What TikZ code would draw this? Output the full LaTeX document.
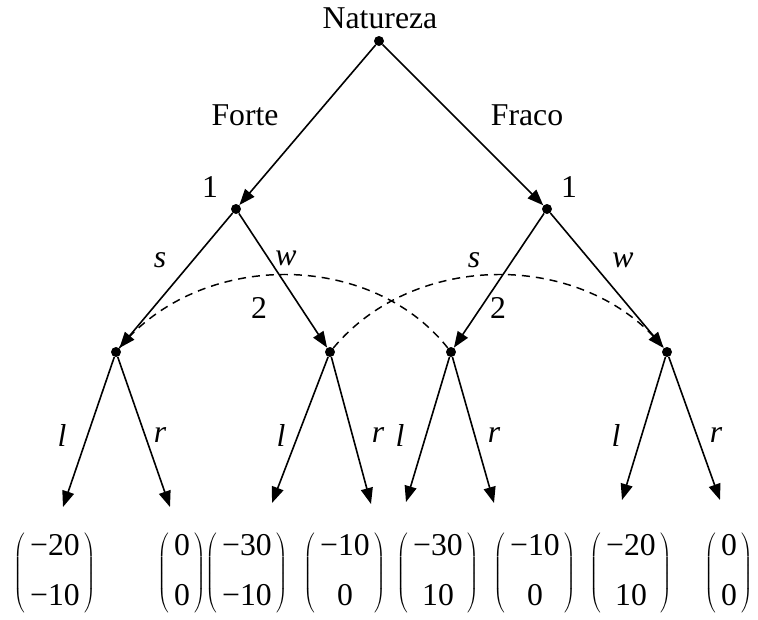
\documentclass[tikz,border=0pt]{standalone}
\usepackage{fontspec}
\setmainfont{Liberation Serif}
\usetikzlibrary{arrows.meta}

\tikzset{
  dec/.style={circle,fill,inner sep=0pt,minimum size=7.5pt},
  ramo/.style={-{Triangle[length=12pt,width=9pt]},line width=1.2pt},
  info/.style={line width=1.1pt,dash pattern=on 6pt off 4.5pt},
  pag/.style={inner sep=0pt}
}
\newcommand{\vpag}[2]{$\left(\rule[-26pt]{0pt}{64pt}\begin{tabular}{@{\hspace{3.5pt}}c@{\hspace{3.5pt}}}#1\\[9pt]#2\end{tabular}\right)$}

\begin{document}
\begin{tikzpicture}[x=0.75pt,y=-0.75pt,font=\fontsize{23.8}{28}\selectfont]
		\useasboundingbox (0,0) rectangle (758,619);
		
		% Nós de decisão
		\node[dec] (n0) at (379,41) {};
		\node[dec] (a) at (236,209) {};
		\node[dec] (b) at (547,209) {};
		\node[dec] (a1) at (116,352) {};
		\node[dec] (a2) at (330,352) {};
		\node[dec] (b1) at (451,352) {};
		\node[dec] (b2) at (667,352) {};
		
		% Pontas finais
		\coordinate (f1) at (63,507);
		\coordinate (f2) at (170,507);
		\coordinate (f3) at (272,503);
		\coordinate (f4) at (371,504);
		\coordinate (f5) at (406,502);
		\coordinate (f6) at (494,503);
		\coordinate (f7) at (622,500);
		\coordinate (f8) at (720,500);
		
		% Ramos
		\draw[ramo] (n0) -- (a);
		\draw[ramo] (n0) -- (b);
		\draw[ramo] (a) -- (a1);
		\draw[ramo] (a) -- (a2);
		\draw[ramo] (b) -- (b1);
		\draw[ramo] (b) -- (b2);
		\draw[ramo] (a1) -- (f1);
		\draw[ramo] (a1) -- (f2);
		\draw[ramo] (a2) -- (f3);
		\draw[ramo] (a2) -- (f4);
		\draw[ramo] (b1) -- (f5);
		\draw[ramo] (b1) -- (f6);
		\draw[ramo] (b2) -- (f7);
		\draw[ramo] (b2) -- (f8);
		
		% Conjuntos de informação
		\draw[info] (a1) .. controls (200,250) and (370,250) .. (b1);
		\draw[info] (a2) .. controls (415,250) and (585,250) .. (b2);
		
		% Rótulos
		\node (nat) at (380,18) {Natureza};
		\node (forte) at (245,115) {Forte};
		\node (fraco) at (527,115) {Fraco};
		\node (j1a) at (210,187) {1};
		\node (j1b) at (569,187) {1};
		\node (j2a) at (259,308) {2};
		\node (j2b) at (498,308) {2};
		\node (sa) at (160,260) {\textit{s}};
		\node (wa) at (286,258) {\textit{w}};
		\node (sb) at (474,260) {\textit{s}};
		\node (wb) at (623,260) {\textit{w}};
		\node (l1) at (62,435) {\textit{l}};
		\node (r1) at (160,435) {\textit{r}};
		\node (l2) at (281,435) {\textit{l}};
		\node (r2) at (378,435) {\textit{r}};
		\node (l3) at (400,435) {\textit{l}};
		\node (r3) at (494,435) {\textit{r}};
		\node (l4) at (616,435) {\textit{l}};
		\node (r4) at (716,435) {\textit{r}};
		
		% Pagamentos
		\node[pag] (p1) at (55,573) {\vpag{−20}{−10}};
		\node[pag] (p2) at (182,573) {\vpag{0}{0}};
		\node[pag] (p3) at (247,573) {\vpag{−30}{−10}};
		\node[pag] (p4) at (345,573) {\vpag{−10}{0}};
		\node[pag] (p5) at (438,573) {\vpag{−30}{10}};
		\node[pag] (p6) at (535,573) {\vpag{−10}{0}};
		\node[pag] (p7) at (631,573) {\vpag{−20}{10}};
		\node[pag] (p8) at (729,573) {\vpag{0}{0}};
		
	\end{tikzpicture}
\end{document}
